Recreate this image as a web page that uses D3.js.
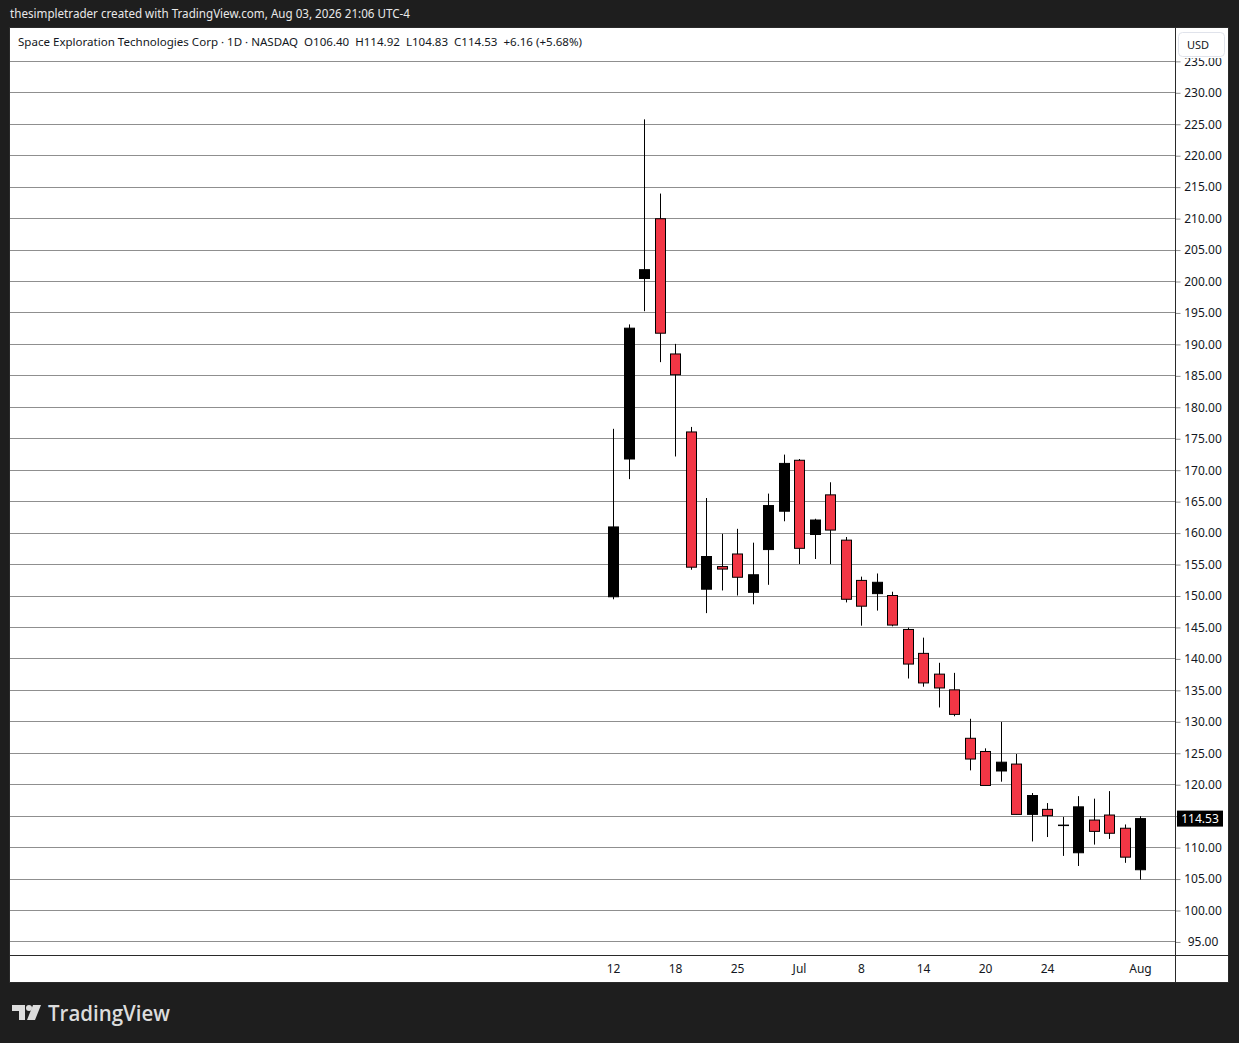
<!DOCTYPE html>
<html><head><meta charset="utf-8">
<script src="https://cdn.jsdelivr.net/npm/d3@7"></script>
<style>html,body{margin:0;padding:0;background:#1e1e1e;overflow:hidden}</style>
</head><body>
<svg id="c" width="1239" height="1043"></svg>
<script>
const dates = ["2026-06-12","2026-06-15","2026-06-16","2026-06-17","2026-06-18","2026-06-22","2026-06-23","2026-06-24","2026-06-25","2026-06-26","2026-06-29","2026-06-30","2026-07-01","2026-07-02","2026-07-06","2026-07-07","2026-07-08","2026-07-09","2026-07-10","2026-07-13","2026-07-14","2026-07-15","2026-07-16","2026-07-17","2026-07-20","2026-07-21","2026-07-22","2026-07-23","2026-07-24","2026-07-27","2026-07-28","2026-07-29","2026-07-30","2026-07-31","2026-08-03"];
const opens  = [149.8,171.7,200.4,209.9,188.4,176.0,151.0,154.6,156.6,150.5,157.3,163.4,171.5,159.7,166.0,158.8,152.4,150.3,150.0,144.6,140.8,137.5,135.0,127.3,125.2,122.1,123.2,115.2,116.0,113.45,109.1,114.3,115.1,113.0,106.40];
const highs  = [176.5,193.1,225.7,213.9,190.0,176.8,165.5,159.8,160.6,158.4,166.2,172.4,171.7,162.2,168.0,159.3,153.0,153.5,150.6,144.9,143.3,139.3,137.7,130.4,125.7,129.9,124.8,118.6,117.0,114.8,118.1,117.7,118.9,113.6,114.92];
const lows   = [149.4,168.5,195.2,187.1,172.1,154.1,147.2,150.8,150.0,148.6,151.7,161.8,155.0,155.8,155.0,148.9,145.2,147.6,145.1,136.8,135.5,132.2,130.8,122.2,119.8,120.4,115.2,110.9,111.6,108.6,107.0,110.4,111.3,107.5,104.83];
const closes = [160.9,192.5,201.8,191.7,185.1,154.5,156.2,154.2,152.9,153.3,164.3,171.0,157.5,162.0,160.4,149.4,148.3,152.1,145.3,139.1,136.1,135.3,131.1,124.0,119.8,123.5,115.2,118.2,115.0,113.5,116.4,112.5,112.2,108.4,114.53];
const priceTicks = [95,100,105,110,115,120,125,130,135,140,145,150,155,160,165,170,175,180,185,190,195,200,205,210,215,220,225,230,235];
const priceLabelTicks = [95,100,105,110,120,125,130,135,140,145,150,155,160,165,170,175,180,185,190,195,200,205,210,215,220,225,230,235];
const timeTickDates  = ["2026-06-12","2026-06-18","2026-06-25","2026-07-01","2026-07-08","2026-07-14","2026-07-20","2026-07-24","2026-08-03"];
const timeTickLabels = ["12","18","25","Jul","8","14","20","24","Aug"];
const headerText = "thesimpletrader created with TradingView.com, Aug 03, 2026 21:06 UTC-4";
const legendText = "Space Exploration Technologies Corp · 1D · NASDAQ  O106.40  H114.92  L104.83  C114.53  +6.16 (+5.68%)";
const lastPrice = 114.53;

const FONT = "'Noto Sans', 'Liberation Sans', sans-serif";
const svg = d3.select("#c");
const L = 10, R = 1175, T = 28, B = 955, AR = 1228, AB = 982;

svg.append("rect").attr("width",1239).attr("height",1043).attr("fill","#1e1e1e");
svg.append("text").attr("x",10).attr("y",18).attr("fill","#e8e8e8")
  .attr("font-family",FONT).attr("font-size",12).attr("textLength",400).attr("lengthAdjust","spacingAndGlyphs")
  .text(headerText);

svg.append("rect").attr("x",L-0.5).attr("y",T-0.5).attr("width",AR-L+1).attr("height",AB-T+1)
  .attr("fill","#ffffff").attr("stroke","#2a2a2a").attr("stroke-width",1);

const y = d3.scaleLinear().domain([100,230]).range([910,92.3]);
const x = d3.scalePoint().domain(dates).range([613,1140]);

const defs = svg.append("defs");
defs.append("clipPath").attr("id","plot").append("rect").attr("x",L).attr("y",T).attr("width",R-L).attr("height",B-T);
defs.append("clipPath").attr("id","axis").append("rect").attr("x",R).attr("y",58).attr("width",AR-R).attr("height",B-58);

const grid = svg.append("g").attr("clip-path","url(#plot)");
grid.selectAll("line").data(priceTicks).join("line")
  .attr("x1",L).attr("x2",R)
  .attr("y1",d=>Math.round(y(d))+0.5).attr("y2",d=>Math.round(y(d))+0.5)
  .attr("stroke","#8f8f8f").attr("stroke-width",1);

// price axis tick marks
const axisG = svg.append("g").attr("clip-path","url(#axis)");
axisG.append("g").attr("transform",`translate(${R+0.5},0.5)`)
  .call(d3.axisRight(y).tickValues(priceTicks).tickFormat("").tickSize(5))
  .call(g=>g.select(".domain").remove())
  .call(g=>g.selectAll(".tick line").attr("stroke","#8f8f8f"));
// price axis labels
axisG.append("g").attr("transform",`translate(${R},0.5)`)
  .call(d3.axisRight(y).tickValues(priceLabelTicks).tickFormat(d=>d.toFixed(2)).tickSize(0).tickPadding(28))
  .call(g=>g.select(".domain").remove())
  .call(g=>g.selectAll(".tick text").attr("text-anchor","middle").attr("fill","#131722").attr("font-family",FONT).attr("font-size",12));

const tAxis = d3.axisBottom(x).tickValues(timeTickDates).tickFormat((d,i)=>timeTickLabels[i]).tickSize(0).tickPadding(9);
svg.append("g").attr("transform",`translate(0,${B})`).call(tAxis)
  .call(g=>g.select(".domain").remove())
  .call(g=>g.selectAll(".tick text").attr("fill","#131722").attr("font-family",FONT).attr("font-size",12));

svg.append("line").attr("x1",R+0.5).attr("x2",R+0.5).attr("y1",T).attr("y2",AB).attr("stroke","#2a2a2a");
svg.append("line").attr("x1",L).attr("x2",AR).attr("y1",B+0.5).attr("y2",B+0.5).attr("stroke","#2a2a2a");

const bars = dates.map((d,i)=>({d,o:opens[i],h:highs[i],l:lows[i],c:closes[i]}));
const cg = svg.append("g").attr("clip-path","url(#plot)");
const candle = cg.selectAll("g").data(bars).join("g");
candle.append("line")
  .attr("x1",d=>Math.round(x(d.d))+0.5).attr("x2",d=>Math.round(x(d.d))+0.5)
  .attr("y1",d=>y(d.h)).attr("y2",d=>y(d.l))
  .attr("stroke","#000").attr("stroke-width",1);
candle.append("rect")
  .attr("x",d=>Math.round(x(d.d))-4.5).attr("width",10)
  .attr("y",d=>y(Math.max(d.o,d.c)))
  .attr("height",d=>Math.max(0.5, y(Math.min(d.o,d.c))-y(Math.max(d.o,d.c))))
  .attr("fill",d=>d.c>=d.o?"#000000":"#f23645")
  .attr("stroke","#000").attr("stroke-width",1);

svg.append("text").attr("x",18).attr("y",46).attr("fill","#131722")
  .attr("font-family",FONT).attr("font-size",11.5).attr("textLength",564).attr("lengthAdjust","spacingAndGlyphs")
  .attr("xml:space","preserve")
  .text(legendText);

svg.append("rect").attr("x",1178.5).attr("y",32.5).attr("width",46).attr("height",24).attr("rx",4)
  .attr("fill","#ffffff").attr("stroke","#e0e3eb");
svg.append("text").attr("x",1198).attr("y",48.5).attr("text-anchor","middle").attr("fill","#131722")
  .attr("font-family",FONT).attr("font-size",11).text("USD");

const ly = y(lastPrice);
svg.append("rect").attr("x",1177).attr("y",ly-8).attr("width",46).attr("height",16).attr("fill","#000");
svg.append("text").attr("x",1200).attr("y",ly+4.5).attr("text-anchor","middle").attr("fill","#fff")
  .attr("font-family",FONT).attr("font-size",12).text(lastPrice.toFixed(2));

const logo = svg.append("g").attr("fill","#dcdcdc");
logo.append("path").attr("d","M12 1005 H25 V1020 H19 V1011 H12 Z");
logo.append("circle").attr("cx",29).attr("cy",1008).attr("r",3);
logo.append("path").attr("d","M33 1005 H41 L35 1020 H27 Z");
svg.append("text").attr("x",48).attr("y",1020.5).attr("fill","#dcdcdc")
  .attr("font-family","'Open Sans', 'Noto Sans', sans-serif").attr("font-weight",600).attr("font-size",21)
  .attr("textLength",122).attr("lengthAdjust","spacingAndGlyphs").text("TradingView");
</script>
</body></html>
